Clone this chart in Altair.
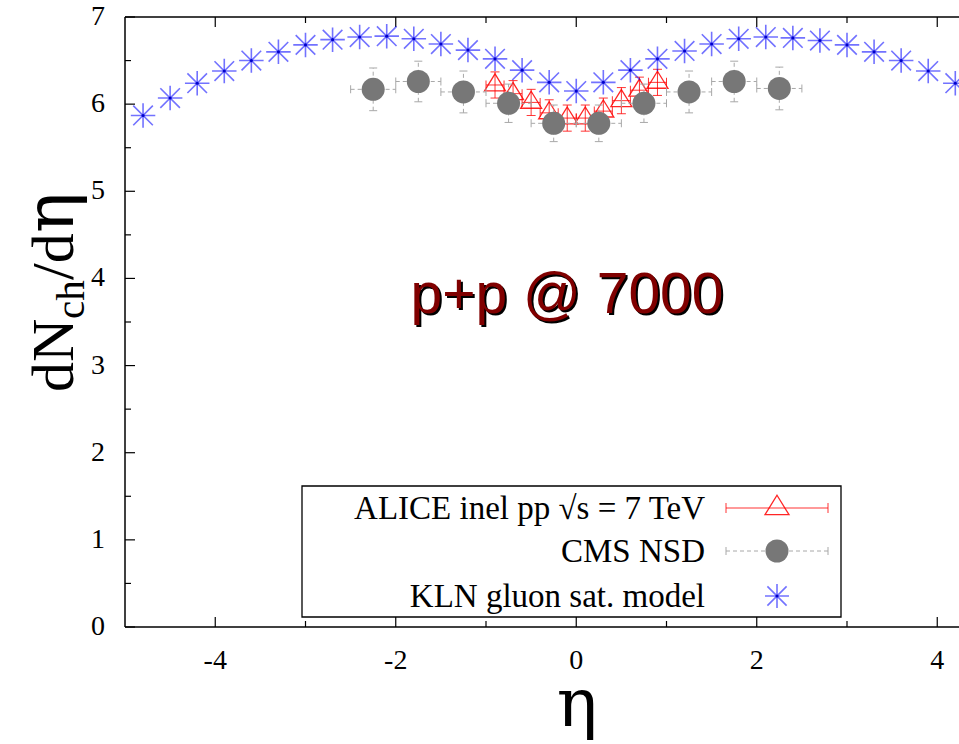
import altair as alt
import pandas as pd

# ---------------- data ----------------
kln_eta = [-4.8, -4.5, -4.2, -3.9, -3.6, -3.3, -3.0, -2.7, -2.4, -2.1, -1.8, -1.5, -1.2, -0.9, -0.6, -0.3,
           0.0, 0.3, 0.6, 0.9, 1.2, 1.5, 1.8, 2.1, 2.4, 2.7, 3.0, 3.3, 3.6, 3.9, 4.2]
kln_dndeta = [5.87, 6.07, 6.24, 6.38, 6.50, 6.60, 6.68, 6.74, 6.77, 6.78, 6.75, 6.69, 6.62, 6.52, 6.39, 6.25,
              6.15, 6.25, 6.39, 6.52, 6.61, 6.69, 6.75, 6.77, 6.76, 6.73, 6.68, 6.60, 6.50, 6.38, 6.24]

cms_eta = [-2.25, -1.75, -1.25, -0.75, -0.25, 0.25, 0.75, 1.25, 1.75, 2.25]
cms_dndeta = [6.17, 6.26, 6.14, 6.01, 5.78, 5.78, 6.01, 6.14, 6.26, 6.18]
cms_err = [0.245, 0.233, 0.24, 0.22, 0.21, 0.21, 0.22, 0.24, 0.233, 0.245]
cms_eta_halfwidth = [0.25, 0.25, 0.25, 0.25, 0.25, 0.25, 0.25, 0.25, 0.25, 0.25]

alice_eta = [-0.9, -0.7, -0.5, -0.3, -0.1, 0.1, 0.3, 0.5, 0.7, 0.9]
alice_dndeta = [6.22, 6.12, 6.02, 5.90, 5.84, 5.84, 5.92, 6.04, 6.16, 6.25]
alice_err = [0.15, 0.15, 0.15, 0.15, 0.15, 0.15, 0.15, 0.15, 0.15, 0.15]
alice_eta_halfwidth = [0.1, 0.1, 0.1, 0.1, 0.1, 0.1, 0.1, 0.1, 0.1, 0.1]

x_major = [-4, -2, 0, 2, 4]
x_major_labels = ["-4", "-2", "0", "2", "4"]
x_minor = [-3, -1, 1, 3]
y_major = [0, 1, 2, 3, 4, 5, 6, 7]
y_major_labels = ["0", "1", "2", "3", "4", "5", "6", "7"]
y_minor = [0.5, 1.5, 2.5, 3.5, 4.5, 5.5, 6.5]

legend_labels = ["ALICE inel pp \u221as = 7 TeV", "CMS NSD", "KLN gluon sat. model"]
annotation = ["p+p @ 7000"]
x_title = ["\u03b7"]
y_title_parts = ["dN", "ch", "/d", "\u03b7"]

# ---------------- layout ----------------
W, H = 834, 610
X_MIN, X_MAX = -5.0, -5.0 + 834 / 90.25
xs = alt.Scale(domain=[X_MIN, X_MAX], nice=False, zero=False)
ys = alt.Scale(domain=[0, 7], nice=False, zero=False)

RED = "#ff0000"
BLUE = "#0000ff"
GREY_BAR = "#a8a8a8"
GREY_PT = "#777777"
SERIF = "Liberation Serif"
GREEK = "DejaVu Serif"

TRI = "M0,-1.06L1,0.56L-1,0.56Z"
AST = "M-1,0L1,0M0,-1L0,1M-0.8,-0.8L0.8,0.8M-0.8,0.8L0.8,-0.8"

kln = pd.DataFrame({"eta": kln_eta, "val": kln_dndeta})
cms = pd.DataFrame({"eta": cms_eta, "val": cms_dndeta, "err": cms_err, "hw": cms_eta_halfwidth})
cms["lo"] = cms["val"] - cms["err"]
cms["hi"] = cms["val"] + cms["err"]
cms["xlo"] = cms["eta"] - cms["hw"]
cms["xhi"] = cms["eta"] + cms["hw"]
alice = pd.DataFrame({"eta": alice_eta, "val": alice_dndeta, "err": alice_err, "hw": alice_eta_halfwidth})
alice["lo"] = alice["val"] - alice["err"]
alice["hi"] = alice["val"] + alice["err"]
alice["xlo"] = alice["eta"] - alice["hw"]
alice["xhi"] = alice["eta"] + alice["hw"]

one = pd.DataFrame({"a": [0]})


def X(f):
    return alt.X(f, type="quantitative", scale=xs, axis=None)


def Y(f):
    return alt.Y(f, type="quantitative", scale=ys, axis=None)


# ---------------- frame, ticks and tick labels ----------------
frame_layers = [
    alt.Chart(one).mark_rule(color="black", strokeWidth=1.5).encode(
        x=alt.value(0), x2=alt.value(W), y=alt.value(0)),
    alt.Chart(one).mark_rule(color="black", strokeWidth=1.5).encode(
        x=alt.value(0), x2=alt.value(W), y=alt.value(H)),
    alt.Chart(one).mark_rule(color="black", strokeWidth=1.5).encode(
        x=alt.value(0), y=alt.value(0), y2=alt.value(H)),
]

xmaj = pd.DataFrame({"v": x_major, "lab": x_major_labels})
xmin = pd.DataFrame({"v": x_minor})
ymaj = pd.DataFrame({"v": y_major, "lab": y_major_labels})
ymin = pd.DataFrame({"v": y_minor})

tick_layers = [
    alt.Chart(xmaj).mark_rule(color="black", strokeWidth=1.2).encode(x=X("v"), y=alt.value(H), y2=alt.value(H - 10)),
    alt.Chart(xmin).mark_rule(color="black", strokeWidth=1.2).encode(x=X("v"), y=alt.value(H), y2=alt.value(H - 6)),
    alt.Chart(xmaj).mark_rule(color="black", strokeWidth=1.2).encode(x=X("v"), y=alt.value(0), y2=alt.value(10)),
    alt.Chart(xmin).mark_rule(color="black", strokeWidth=1.2).encode(x=X("v"), y=alt.value(0), y2=alt.value(6)),
    alt.Chart(ymaj).mark_rule(color="black", strokeWidth=1.2).encode(y=Y("v"), x=alt.value(0), x2=alt.value(10)),
    alt.Chart(ymin).mark_rule(color="black", strokeWidth=1.2).encode(y=Y("v"), x=alt.value(0), x2=alt.value(6)),
    alt.Chart(xmaj).mark_text(font=SERIF, fontSize=28, align="center", baseline="alphabetic",
                              color="black").encode(x=X("v"), y=alt.value(H + 42), text="lab:N"),
    alt.Chart(ymaj).mark_text(font=SERIF, fontSize=28, align="right", baseline="middle",
                              color="black").encode(y=Y("v"), x=alt.value(-20), text="lab:N"),
]

# ---------------- ALICE ----------------
a = alt.Chart(alice)
alice_layers = [
    a.mark_rule(color=RED, strokeWidth=1, opacity=0.8).encode(x=X("eta"), y=Y("lo"), y2="hi:Q"),
    a.mark_rule(color=RED, strokeWidth=1, opacity=0.8).encode(x=X("xlo"), x2="xhi:Q", y=Y("val")),
    a.mark_tick(color=RED, orient="horizontal", size=9, thickness=1, opacity=0.8).encode(x=X("eta"), y=Y("lo")),
    a.mark_tick(color=RED, orient="horizontal", size=9, thickness=1, opacity=0.8).encode(x=X("eta"), y=Y("hi")),
    a.mark_tick(color=RED, orient="vertical", size=9, thickness=1, opacity=0.8).encode(x=X("xlo"), y=Y("val")),
    a.mark_tick(color=RED, orient="vertical", size=9, thickness=1, opacity=0.8).encode(x=X("xhi"), y=Y("val")),
    a.mark_point(shape=TRI, size=440, filled=False, color=RED, strokeWidth=1.3, opacity=0.85).encode(x=X("eta"), y=Y("val")),
]

# ---------------- CMS ----------------
c = alt.Chart(cms)
cms_layers = [
    c.mark_rule(color=GREY_BAR, strokeWidth=1, strokeDash=[4, 3]).encode(x=X("eta"), y=Y("lo"), y2="hi:Q"),
    c.mark_rule(color=GREY_BAR, strokeWidth=1, strokeDash=[4, 3]).encode(x=X("xlo"), x2="xhi:Q", y=Y("val")),
    c.mark_tick(color=GREY_BAR, orient="horizontal", size=8, thickness=1, opacity=1).encode(x=X("eta"), y=Y("lo")),
    c.mark_tick(color=GREY_BAR, orient="horizontal", size=8, thickness=1, opacity=1).encode(x=X("eta"), y=Y("hi")),
    c.mark_tick(color=GREY_BAR, orient="vertical", size=8, thickness=1, opacity=1).encode(x=X("xlo"), y=Y("val")),
    c.mark_tick(color=GREY_BAR, orient="vertical", size=8, thickness=1, opacity=1).encode(x=X("xhi"), y=Y("val")),
    c.mark_circle(size=530, color=GREY_PT, opacity=1).encode(x=X("eta"), y=Y("val")),
]

# ---------------- KLN ----------------
k = alt.Chart(kln)
kln_layers = [
    k.mark_point(shape=AST, size=600, filled=False, color=BLUE, strokeWidth=1.6, opacity=0.55).encode(x=X("eta"), y=Y("val")),
    k.mark_circle(size=10, color="#0000cc", opacity=1).encode(x=X("eta"), y=Y("val")),
]

# ---------------- annotation ----------------
ann = pd.DataFrame({"t": annotation})
ann_layers = [
    alt.Chart(ann).mark_text(font="Liberation Sans", fontSize=57, align="center", baseline="alphabetic",
                             color="black", dx=2, dy=2).encode(x=alt.value(442), y=alt.value(296), text="t:N"),
    alt.Chart(ann).mark_text(font="Liberation Sans", fontSize=57, align="center", baseline="alphabetic",
                             color="#800000").encode(x=alt.value(442), y=alt.value(296), text="t:N"),
]

# ---------------- axis titles ----------------
xt = pd.DataFrame({"t": x_title})


def ytext(txt, size, bx, by, font=SERIF):
    return alt.Chart(pd.DataFrame({"t": [txt]})).mark_text(
        font=font, fontSize=size, angle=270, align="left", baseline="alphabetic", color="black"
    ).encode(x=alt.value(bx), y=alt.value(by), text="t:N")


title_layers = [
    alt.Chart(xt).mark_text(font=GREEK, fontSize=68, align="center", baseline="alphabetic",
                            color="black").encode(x=alt.value(452), y=alt.value(709), text="t:N"),
    ytext(y_title_parts[0], 60, -52, 375),
    ytext(y_title_parts[1], 41, -41, 302),
    ytext(y_title_parts[2], 60, -52, 263),
    ytext(y_title_parts[3], 68, -52, 216, GREEK),
]

# ---------------- legend ----------------
LX0, LX1 = 177, 716
LY0, LY1 = 469, 600
ROWS = [491, 534, 579]
SX0, SX1, SM = 601, 703, 652
TX = 580

leg_layers = [
    alt.Chart(one).mark_rect(fill="white", stroke="black", strokeWidth=1.3).encode(
        x=alt.value(LX0), x2=alt.value(LX1), y=alt.value(LY0), y2=alt.value(LY1)),
]
for lab, ry in zip(legend_labels, ROWS):
    leg_layers.append(
        alt.Chart(pd.DataFrame({"t": [lab]})).mark_text(
            font=SERIF, fontSize=33, align="right", baseline="middle", color="black"
        ).encode(x=alt.value(TX), y=alt.value(ry + 1), text="t:N"))

r0 = ROWS[0]
leg_layers += [
    alt.Chart(one).mark_rule(color=RED, strokeWidth=1, opacity=0.8).encode(
        x=alt.value(SX0), x2=alt.value(SX1), y=alt.value(r0)),
    alt.Chart(one).mark_rule(color=RED, strokeWidth=1, opacity=0.8).encode(
        x=alt.value(SX0), y=alt.value(r0 - 5), y2=alt.value(r0 + 5)),
    alt.Chart(one).mark_rule(color=RED, strokeWidth=1, opacity=0.8).encode(
        x=alt.value(SX1), y=alt.value(r0 - 5), y2=alt.value(r0 + 5)),
    alt.Chart(one).mark_point(shape=TRI, size=576, filled=False, color=RED, strokeWidth=1.3, opacity=0.85).encode(
        x=alt.value(SM), y=alt.value(r0)),
]
r1 = ROWS[1]
leg_layers += [
    alt.Chart(one).mark_rule(color=GREY_BAR, strokeWidth=1, strokeDash=[4, 3]).encode(
        x=alt.value(SX0), x2=alt.value(SX1), y=alt.value(r1)),
    alt.Chart(one).mark_rule(color=GREY_BAR, strokeWidth=1).encode(
        x=alt.value(SX0), y=alt.value(r1 - 4), y2=alt.value(r1 + 4)),
    alt.Chart(one).mark_rule(color=GREY_BAR, strokeWidth=1).encode(
        x=alt.value(SX1), y=alt.value(r1 - 4), y2=alt.value(r1 + 4)),
    alt.Chart(one).mark_circle(size=529, color=GREY_PT, opacity=1).encode(
        x=alt.value(SM), y=alt.value(r1)),
]
r2 = ROWS[2]
leg_layers += [
    alt.Chart(one).mark_point(shape=AST, size=576, filled=False, color=BLUE, strokeWidth=1.6, opacity=0.55).encode(
        x=alt.value(SM), y=alt.value(r2)),
    alt.Chart(one).mark_circle(size=10, color="#0000cc", opacity=1).encode(
        x=alt.value(SM), y=alt.value(r2)),
]

chart = alt.layer(
    *frame_layers, *tick_layers,
    *alice_layers, *cms_layers, *kln_layers,
    *ann_layers, *title_layers, *leg_layers,
).properties(
    width=W, height=H,
    autosize=alt.AutoSizeParams(type="none"),
    padding={"left": 125, "top": 17, "right": 0, "bottom": 117},
    background="white",
).configure_view(strokeWidth=0)

chart.save("out.html", embed_options={"renderer": "svg", "actions": False})
